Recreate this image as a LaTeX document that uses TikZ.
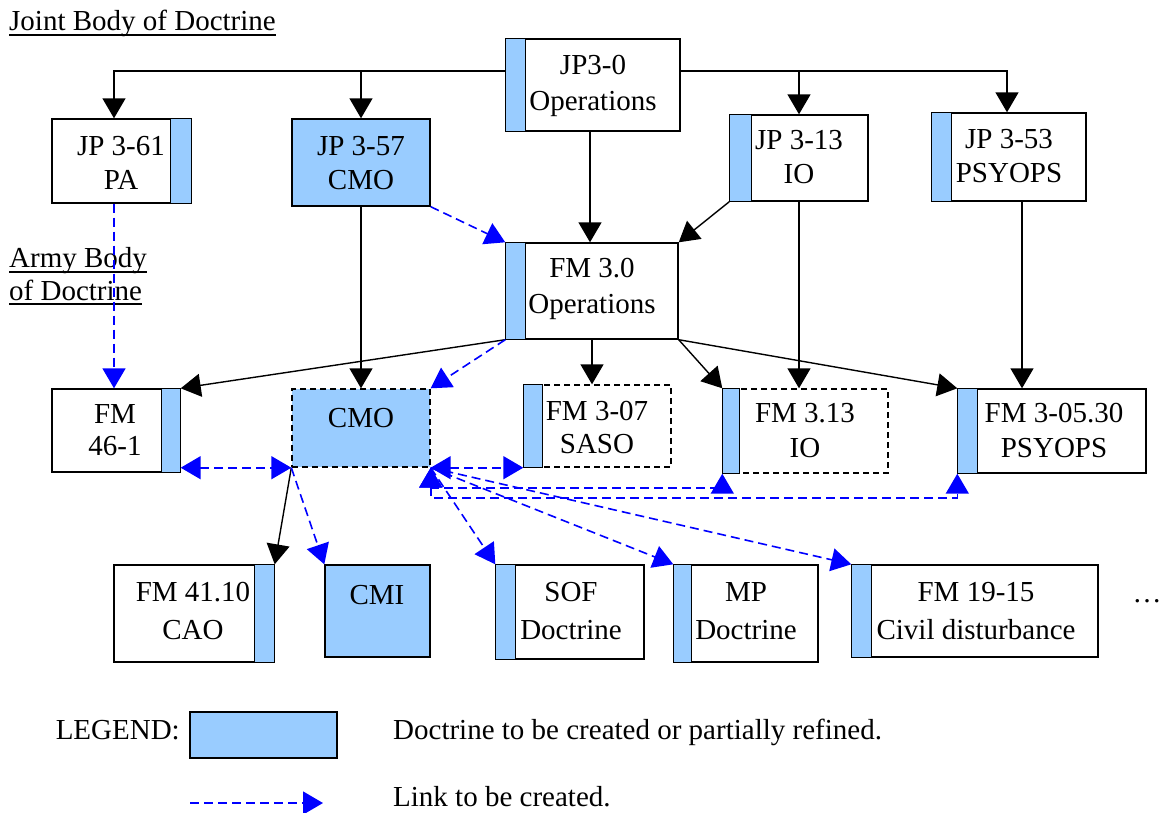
\documentclass[tikz,border=0pt]{standalone}
\usepackage{fontspec}
\setmainfont{Liberation Serif}
\usetikzlibrary{arrows.meta,calc}
\definecolor{lb}{RGB}{153,204,255}
\definecolor{lk}{RGB}{0,0,255}
\begin{document}
\begin{tikzpicture}[x=1pt,y=-1pt,
  box/.style={draw=black, line width=1.4pt, fill=white, rectangle, inner sep=0pt},
  fbox/.style={box, fill=lb},
  dbox/.style={dash pattern=on 6pt off 4pt},
  barst/.style={draw=black, line width=1.4pt, fill=lb},
  txt/.style={anchor=base, inner sep=0pt, font=\fontsize{29}{35}\selectfont},
  ltxt/.style={anchor=base west, inner sep=0pt, font=\fontsize{29}{35}\selectfont},
  tip/.tip={Triangle[length=20pt,width=23pt]},
  arr/.style={draw=black, line width=1.4pt, -tip},
  lnk/.style={draw=lk, color=lk, line width=1.6pt, dash pattern=on 9pt off 5pt, -tip},
  lnkk/.style={lnk, tip-tip},
  uline/.style={line width=1.5pt}
]
\useasboundingbox (0,0) rectangle (1161,812);

% ---------- boxes ----------
\node[box, minimum width=174pt, minimum height=92pt] (jp30) at (593,85) {};
\node[box, minimum width=139pt, minimum height=84pt] (jp361) at (121.5,161) {};
\node[fbox, minimum width=138pt, minimum height=87pt] (jp357) at (361,162.5) {};
\node[box, minimum width=138pt, minimum height=86pt] (jp313) at (799,158) {};
\node[box, minimum width=154pt, minimum height=88pt] (jp353) at (1009,157) {};
\node[box, minimum width=172pt, minimum height=96pt] (fm30) at (592,291) {};
\node[box, minimum width=128pt, minimum height=83pt] (fm461) at (116,430.5) {};
\node[fbox, dbox, minimum width=138pt, minimum height=78pt] (cmo) at (361,428) {};
\node[box, dbox, minimum width=147pt, minimum height=82pt] (fm307) at (597.5,426) {};
\node[box, dbox, minimum width=165pt, minimum height=84pt] (fm313) at (805.5,431) {};
\node[box, minimum width=188pt, minimum height=84pt] (fm30530) at (1052,431) {};
\node[box, minimum width=160pt, minimum height=97pt] (fm4110) at (194,613.5) {};
\node[fbox, minimum width=105pt, minimum height=92pt] (cmi) at (377.5,611) {};
\node[box, minimum width=148pt, minimum height=94pt] (sof) at (570,612) {};
\node[box, minimum width=144pt, minimum height=97pt] (mp) at (746,613.5) {};
\node[box, minimum width=246pt, minimum height=92pt] (fm1915) at (975,611) {};
\node[fbox, minimum width=147pt, minimum height=46pt] (leg) at (263.5,735) {};

% ---------- side bars ----------
\draw[barst] (jp30.north west) rectangle ([xshift=20pt]jp30.south west);
\draw[barst] ([xshift=-21pt]jp361.north east) rectangle (jp361.south east);
\draw[barst] (jp313.north west) rectangle ([xshift=22pt]jp313.south west);
\draw[barst] (jp353.north west) rectangle ([xshift=20pt]jp353.south west);
\draw[barst] (fm30.north west) rectangle ([xshift=20pt]fm30.south west);
\draw[barst] ([xshift=-19pt]fm461.north east) rectangle (fm461.south east);
\draw[barst] (fm307.north west) rectangle ([xshift=19pt]fm307.south west);
\draw[barst] (fm313.north west) rectangle ([xshift=17pt]fm313.south west);
\draw[barst] (fm30530.north west) rectangle ([xshift=20pt]fm30530.south west);
\draw[barst] ([xshift=-20pt]fm4110.north east) rectangle (fm4110.south east);
\draw[barst] (sof.north west) rectangle ([xshift=20pt]sof.south west);
\draw[barst] (mp.north west) rectangle ([xshift=18pt]mp.south west);
\draw[barst] (fm1915.north west) rectangle ([xshift=20pt]fm1915.south west);

% ---------- box texts ----------
\node[txt] (jp30a) at (593,74) {JP3-0};
\node[txt] (jp30b) at (593,110) {Operations};
\node[txt] (jp361a) at (121,155) {JP 3-61};
\node[txt] (jp361b) at (121,189) {PA};
\node[txt] (jp357a) at (361,155) {JP 3-57};
\node[txt] (jp357b) at (361,189) {CMO};
\node[txt] (jp313a) at (799,149) {JP 3-13};
\node[txt] (jp313b) at (799,183) {IO};
\node[txt] (jp353a) at (1009,148) {JP 3-53};
\node[txt] (jp353b) at (1009,182) {PSYOPS};
\node[txt] (fm30a) at (592,277) {FM 3.0};
\node[txt] (fm30b) at (592,313) {Operations};
\node[txt] (fm461a) at (115,423) {FM};
\node[txt] (fm461b) at (115,455) {46-1};
\node[txt] (cmoa) at (361,427) {CMO};
\node[txt] (fm307a) at (597,420) {FM 3-07};
\node[txt] (fm307b) at (597,453) {SASO};
\node[txt] (fm313a) at (805,422) {FM 3.13};
\node[txt] (fm313b) at (805,457) {IO};
\node[txt] (fm30530a) at (1054,422) {FM 3-05.30};
\node[txt] (fm30530b) at (1054,457) {PSYOPS};
\node[txt] (fm4110a) at (193,601) {FM 41.10};
\node[txt] (fm4110b) at (193,639) {CAO};
\node[txt] (cmia) at (377,604) {CMI};
\node[txt] (sofa) at (571,601) {SOF};
\node[txt] (sofb) at (571,639) {Doctrine};
\node[txt] (mpa) at (746,601) {MP};
\node[txt] (mpb) at (746,639) {Doctrine};
\node[txt] (fm1915a) at (976,601) {FM 19-15};
\node[txt] (fm1915b) at (976,639) {Civil disturbance};
\node[txt] (dots) at (1147,602) {…};

% ---------- headings ----------
\node[ltxt] (joint) at (9,30) {Joint Body of Doctrine};
\draw[uline] ([yshift=-5pt]joint.base west) -- ([yshift=-5pt]joint.base east);
\node[ltxt] (army1) at (9,267) {Army Body};
\draw[uline] ([yshift=-5pt]army1.base west) -- ([yshift=-5pt]army1.base east);
\node[ltxt] (army2) at (9,300) {of Doctrine};
\draw[uline] ([yshift=-4pt]army2.base west) -- ([yshift=-4pt]army2.base east);

% ---------- legend ----------
\node[txt, anchor=base east] (legt) at (180,739) {LEGEND:};
\node[ltxt] (leg1) at (393,739) {Doctrine to be created or partially refined.};
\node[ltxt] (leg2) at (393,806) {Link to be created.};
\coordinate (legA) at (190,803);
\coordinate (legB) at (323,803);
\draw[lnk] (legA) -- (legB);

% ---------- connectors: joint level ----------
\coordinate (busy) at (0,71);
\draw[arr] (jp30.west |- busy) -| ([xshift=-7.5pt]jp361.north);
\draw[arr] (jp30.west |- busy) -| (jp357.north);
\draw[arr] (jp30.east |- busy) -| (jp313.north);
\draw[arr] (jp30.east |- busy) -| ([xshift=-2pt]jp353.north);
\draw[arr] ([xshift=-3pt]jp30.south) -- ([xshift=-3pt]jp30.south |- fm30.north);
\draw[arr] (jp313.south west) -- (fm30.north east);
\draw[lnk] (jp357.south east) -- (fm30.north west);
\draw[lnk] ([xshift=-7.5pt]jp361.south) -- ([xshift=-7.5pt]jp361.south |- fm461.north);
\draw[arr] (jp357.south) -- (cmo.north);
\draw[arr] (jp313.south) -- (jp313.south |- fm313.north);
\draw[arr] ([xshift=13pt]jp353.south) -- ([xshift=13pt]jp353.south |- fm30530.north);

% ---------- connectors: FM 3.0 ----------
\draw[arr] (fm30.south west) -- (fm461.north east);
\draw[lnk] (fm30.south west) -- (cmo.north east);
\draw[arr] (fm30.south) -- (fm30.south |- fm307.north);
\draw[arr] (fm30.south east) -- (fm313.north west);
\draw[arr] (fm30.south east) -- (fm30530.north west);

% ---------- connectors: CMO ----------
\draw[lnkk] (fm461.south east |- cmo.south west) -- (cmo.south west);
\draw[lnkk] (cmo.south east) -- (fm307.south west);
\draw[lnkk] (cmo.south east) -- ++(0,20) -| (fm313.south west);
\draw[lnkk] (cmo.south east) -- ++(0,30) -| (fm30530.south west);
\draw[arr] (cmo.south west) -- (fm4110.north east);
\draw[lnk] (cmo.south west) -- (cmi.north west);
\draw[lnk] (cmo.south east) -- (sof.north west);
\draw[lnk] (cmo.south east) -- (mp.north west);
\draw[lnk] (cmo.south east) -- (fm1915.north west);
\end{tikzpicture}
\end{document}
